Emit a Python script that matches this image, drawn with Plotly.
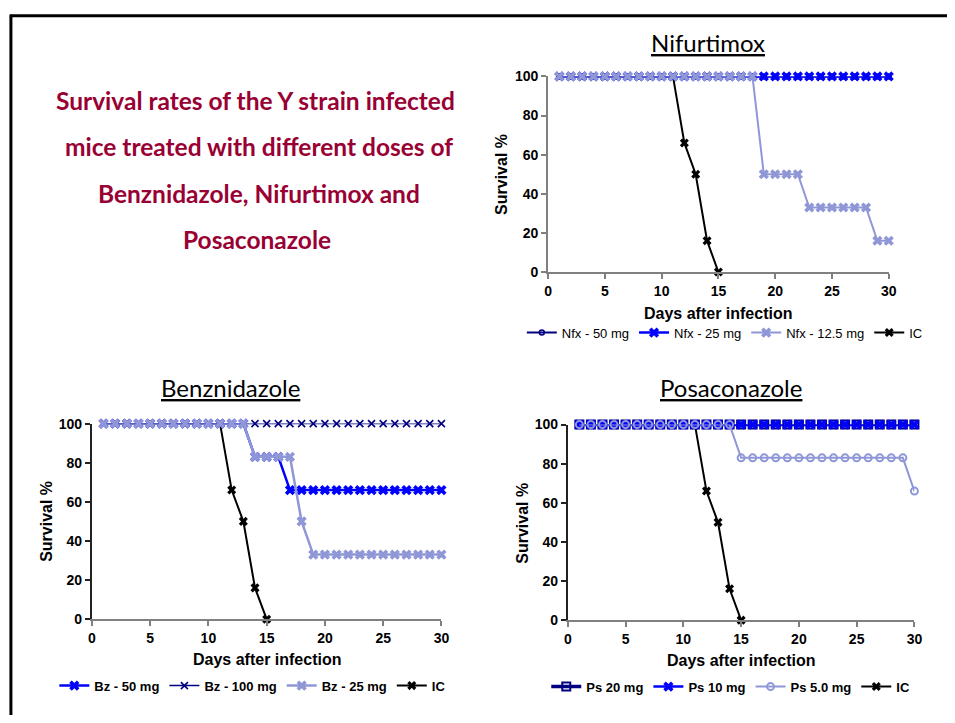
import plotly.graph_objects as go

days = list(range(1, 31))
ic_days = list(range(1, 16))
ic_vals = [100]*11 + [66, 50, 16, 0]

nfx50 = [100]*30
nfx25 = [100]*30
nfx125 = [100]*18 + [50]*4 + [33]*6 + [16]*2

bz50 = [100]*13 + [83]*3 + [66]*14
bz100 = [100]*30
bz25 = [100]*13 + [83]*4 + [50] + [33]*12

ps20 = [100]*30
ps10 = [100]*30
ps5 = [100]*14 + [83]*15 + [66]

NAVY = "#000080"
BLUE = "#0000FF"
LIGHT = "#8F97D7"
BLACK = "#000000"
GRAY = "#808080"
TITLE_RED = "#990033"

W, H = 955, 723

def px_x(p):
    return p / W

def px_y(p):
    return 1 - p / H

fig = go.Figure()

def add(x, y, name, color, symbol, msize, lw, mlw, axis, legend, rank):
    fig.add_trace(go.Scatter(
        x=x, y=y, name=name, mode="lines+markers",
        line=dict(color=color, width=lw),
        marker=dict(symbol=symbol, size=msize, color=color,
                    line=dict(color=color, width=mlw)),
        xaxis="x" + axis, yaxis="y" + axis,
        legend=legend, legendrank=rank, cliponaxis=False,
    ))

# Nifurtimox
add(ic_days, ic_vals, "IC", BLACK, "x", 8, 2, 0, "", "legend", 4)
add(days, nfx50, "Nfx - 50 mg", NAVY, "circle-open", 5, 2, 1.5, "", "legend", 1)
add(days, nfx25, "Nfx - 25 mg", BLUE, "x", 9, 2.5, 0, "", "legend", 2)
add(days, nfx125, "Nfx - 12.5 mg", LIGHT, "x", 9, 2, 0, "", "legend", 3)

# Benznidazole
add(ic_days, ic_vals, "IC", BLACK, "x", 8, 2, 0, "2", "legend2", 4)
add(days, bz100, "Bz - 100 mg", NAVY, "x-thin-open", 7, 1.5, 1.6, "2", "legend2", 2)
add(days, bz50, "Bz - 50 mg", BLUE, "x", 9, 2.5, 0, "2", "legend2", 1)
add(days, bz25, "Bz - 25 mg", LIGHT, "x", 9, 2.5, 0, "2", "legend2", 3)

# Posaconazole
add(ic_days, ic_vals, "IC", BLACK, "x", 8, 2, 0, "3", "legend3", 4)
add(days, ps20, "Ps 20 mg", NAVY, "square-open", 8, 3.5, 2, "3", "legend3", 1)
add(days, ps10, "Ps 10 mg", BLUE, "x", 9, 2.5, 0, "3", "legend3", 2)
add(days, ps5, "Ps 5.0 mg", LIGHT, "circle-open", 7, 2, 2, "3", "legend3", 3)

for tr in fig.data[:4]:
    tr.xaxis = "x"
    tr.yaxis = "y"

tickfont = dict(family="Liberation Sans, Arial", size=14, color="black", weight="bold")

def xaxis_cfg(x0, x1, anchor):
    return dict(domain=[px_x(x0), px_x(x1)], range=[0, 30], dtick=5, tick0=0,
                showline=True, linecolor=GRAY, linewidth=2,
                ticks="outside", ticklen=5, tickwidth=2, tickcolor=GRAY,
                showgrid=False, zeroline=False, tickfont=tickfont,
                anchor=anchor, fixedrange=True)

def yaxis_cfg(y0, y1, anchor, color=GRAY):
    return dict(domain=[px_y(y1), px_y(y0)], range=[0, 100], dtick=20, tick0=0,
                showline=True, linecolor=color, linewidth=2,
                ticks="outside", ticklen=5, tickwidth=2, tickcolor=color,
                showgrid=False, zeroline=False, tickfont=tickfont,
                anchor=anchor, fixedrange=True)

legfont_reg = dict(family="Liberation Sans, Arial", size=13, color="black")
legfont_bold = dict(family="Liberation Sans, Arial", size=13, color="black", weight="bold")

fig.update_layout(
    autosize=True,
    margin=dict(l=0, r=0, t=0, b=0, pad=0),
    paper_bgcolor="white", plot_bgcolor="white",
    xaxis=xaxis_cfg(551, 896, "y"),
    yaxis=yaxis_cfg(70, 270, "x"),
    xaxis2=xaxis_cfg(89, 443, "y2"),
    yaxis2=yaxis_cfg(425, 625, "x2", color="#222222"),
    xaxis3=xaxis_cfg(571, 922, "y3"),
    yaxis3=yaxis_cfg(426, 626, "x3", color="#222222"),
    legend=dict(orientation="h", x=px_x(730), y=px_y(332), xanchor="center", yanchor="middle",
                font=legfont_reg, itemwidth=30, bgcolor="rgba(0,0,0,0)"),
    legend2=dict(orientation="h", x=px_x(252), y=px_y(693), xanchor="center", yanchor="middle",
                 font=legfont_bold, itemwidth=30, bgcolor="rgba(0,0,0,0)"),
    legend3=dict(orientation="h", x=px_x(736), y=px_y(694), xanchor="center", yanchor="middle",
                 font=legfont_bold, itemwidth=30, bgcolor="rgba(0,0,0,0)"),
    showlegend=True,
)

annotations = []

def ann(text, x, y, size, color="black", family="Liberation Sans, Arial", weight="normal", angle=0):
    annotations.append(dict(text=text, x=px_x(x), y=px_y(y), xref="paper", yref="paper",
                            xanchor="center", yanchor="middle", showarrow=False, textangle=angle,
                            font=dict(family=family, size=size, color=color, weight=weight)))

title_lines = ["Survival rates of the Y strain infected",
               "mice treated with different doses of",
               "Benznidazole, Nifurtimox and",
               "Posaconazole"]
title_pos = [(255, 95), (258, 142), (258, 190), (256, 237)]
for t, (x, y) in zip(title_lines, title_pos):
    ann(t, x, y, 24.5, color=TITLE_RED, family="Lato, Open Sans, sans-serif", weight="bold")

ann("<u>Nifurtimox</u>", 713, 35, 24, family="Lato, Open Sans, sans-serif")
ann("<u>Benznidazole</u>", 229, 388, 24, family="Lato, Open Sans, sans-serif")
ann("<u>Posaconazole</u>", 736, 388, 24, family="Lato, Open Sans, sans-serif")

ann("Days after infection", 723, 312, 16, weight="bold")
ann("Days after infection", 266, 666, 16, weight="bold")
ann("Days after infection", 746, 667, 16, weight="bold")
ann("Survival %", 504, 170, 16, weight="bold", angle=-90)
ann("Survival %", 43, 525, 16, weight="bold", angle=-90)
ann("Survival %", 525, 527, 16, weight="bold", angle=-90)

fig.update_layout(annotations=annotations)

fig.update_layout(shapes=[
    dict(type="line", xref="paper", yref="paper", x0=px_x(7), x1=px_x(7), y0=0, y1=px_y(7),
         line=dict(color="black", width=3)),
    dict(type="line", xref="paper", yref="paper", x0=px_x(6), x1=1, y0=px_y(8), y1=px_y(8),
         line=dict(color="black", width=3)),
])

post = ("document.documentElement.style.margin='0';"
        "document.documentElement.style.padding='0';"
        "document.body.style.margin='0';document.body.style.padding='0';"
        "document.body.style.overflow='hidden';"
        "document.documentElement.style.overflow='hidden';"
        "var gd=document.getElementById('{plot_id}');"
        "gd.style.width='100vw';gd.style.height='100vh';"
        "Plotly.Plots.resize(gd);")

fig.write_html("out.html",
               config={"displayModeBar": False, "responsive": True},
               default_width="100vw", default_height="100vh",
               post_script=post)
